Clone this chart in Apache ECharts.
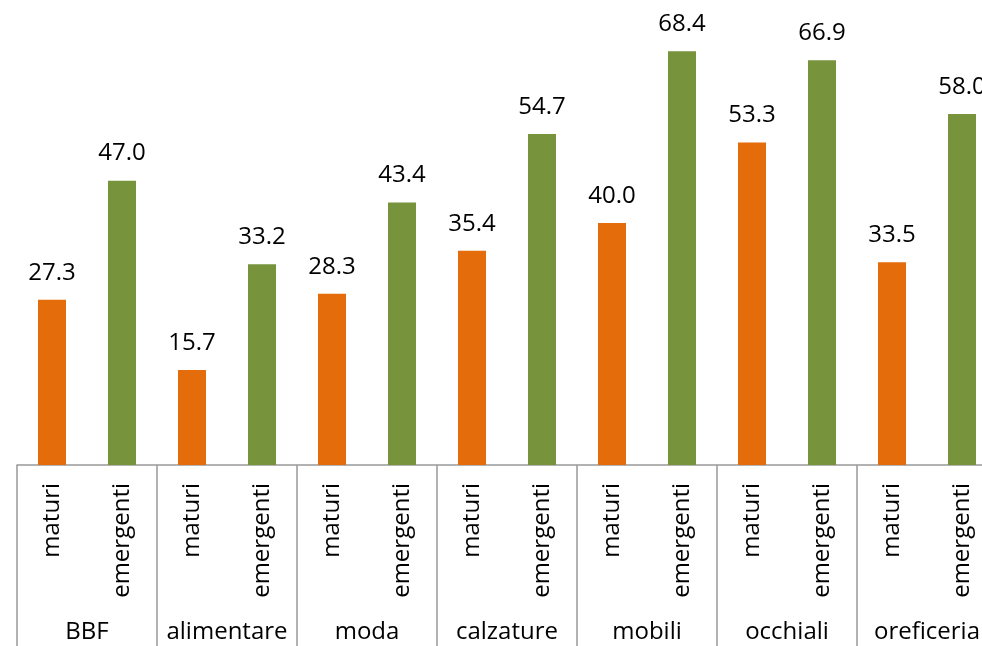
<!DOCTYPE html>
<html>
<head>
<meta charset="utf-8">
<script src="https://cdn.jsdelivr.net/npm/echarts@6/dist/echarts.min.js"></script>
<style>html,body{margin:0;padding:0;background:#fff;}#c{width:982px;height:646px;}</style>
</head>
<body>
<div id="c"></div>
<script>
const groups = ['BBF','alimentare','moda','calzature','mobili','occhiali','oreficeria'];
const subLabels = ['maturi','emergenti'];
const maturi = [27.3, 15.7, 28.3, 35.4, 40.0, 53.3, 33.5];
const emergenti = [47.0, 33.2, 43.4, 54.7, 68.4, 66.9, 58.0];

const COL_M = '#E46C0A';
const COL_E = '#77933C';
const FONT = '"Open Sans", sans-serif';

const cats = [];
const data = [];
groups.forEach((g, i) => {
  cats.push(subLabels[0], subLabels[1]);
  data.push({ value: maturi[i], itemStyle: { color: COL_M } });
  data.push({ value: emergenti[i], itemStyle: { color: COL_E } });
});

const chart = echarts.init(document.getElementById('c'), null, { renderer: 'canvas' });
chart.setOption({
  animation: false,
  backgroundColor: '#fff',
  grid: { left: 17, top: 41.5, width: 980, bottom: 181, containLabel: false, outerBoundsMode: 'none' },
  xAxis: [
    {
      type: 'category',
      data: cats,
      position: 'bottom',
      axisLine: { show: true, lineStyle: { color: '#999', width: 1.5 } },
      axisTick: { show: false },
      axisLabel: { rotate: 90, interval: 0, margin: 18, fontSize: 24, color: '#000', fontFamily: FONT }
    },
    {
      type: 'category',
      data: groups,
      position: 'bottom',
      axisLine: { show: false },
      axisTick: { show: true, length: 200, lineStyle: { color: '#999', width: 1.5 } },
      axisLabel: { interval: 0, margin: 155, fontSize: 24, color: '#000', fontFamily: FONT }
    }
  ],
  yAxis: { type: 'value', min: 0, max: 70, show: false, splitLine: { show: false } },
  series: [{
    type: 'bar',
    xAxisIndex: 0,
    data: data,
    barWidth: 28,
    label: {
      show: true, position: 'top', distance: 15,
      fontSize: 24, color: '#000', fontFamily: FONT,
      formatter: p => p.value.toFixed(1)
    }
  }]
});
</script>
</body>
</html>
